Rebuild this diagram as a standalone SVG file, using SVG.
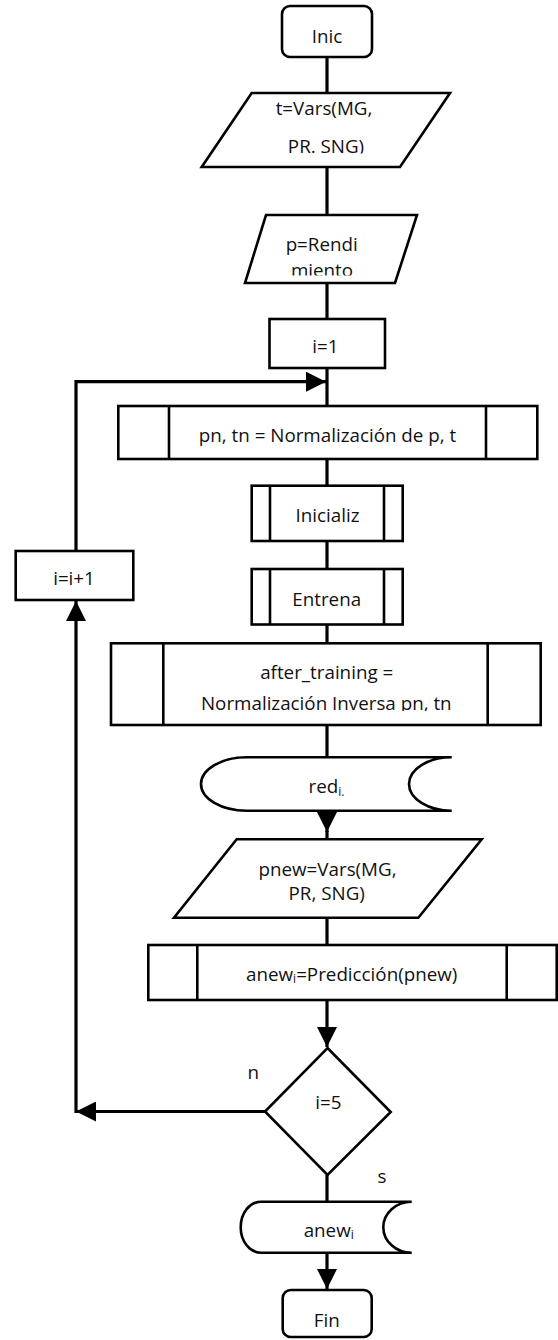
<svg xmlns="http://www.w3.org/2000/svg" width="558" height="1340" viewBox="0 0 558 1340">
<style>
.s{fill:#fff;stroke:#000;stroke-width:2.6}
.dv{fill:none;stroke:#000;stroke-width:2.6}
.c{fill:none;stroke:#000;stroke-width:3.2}
text{font-family:"Open Sans","Noto Sans",sans-serif;font-size:18.8px;fill:#111;text-anchor:middle}
.sub{font-size:12px}
</style>
<defs>
<marker id="ah" markerUnits="userSpaceOnUse" viewBox="0 0 20 20" markerWidth="20" markerHeight="20" refX="20" refY="10" orient="auto"><path d="M0,0 L20,10 L0,20 Z" fill="#000"/></marker>
<clipPath id="clipT"><rect x="200" y="93" width="252" height="60.5"/></clipPath>
<clipPath id="clipP"><rect x="240" y="215" width="180" height="60.5"/></clipPath>
<clipPath id="clipA"><rect x="111" y="643" width="430" height="68"/></clipPath>
</defs>
<rect width="558" height="1340" fill="#fff"/>

<g id="connectors" class="c">
<path d="M327,57 V93"/>
<path d="M327,167 V215"/>
<path d="M327,283 V319"/>
<path d="M327,368 V406"/>
<path d="M327,459 V486"/>
<path d="M327,541 V569"/>
<path d="M327,624.5 V643"/>
<path d="M327,725 V757"/>
<path d="M327,811 V832" marker-end="url(#ah)"/>
<path d="M327,831 V839"/>
<path d="M327,918 V945"/>
<path d="M327,1000 V1047" marker-end="url(#ah)"/>
<path d="M327,1175 V1202"/>
<path d="M327,1253 V1289" marker-end="url(#ah)"/>
<path d="M76,551 V381.7 H326" marker-end="url(#ah)"/>
<path d="M265,1111.5 H76" marker-end="url(#ah)"/>
<path d="M76,1113 V601" marker-end="url(#ah)"/>
</g>

<g id="inic">
<rect class="s" x="282" y="6" width="90" height="51" rx="8"/>
<text x="327" y="43.3">Inic</text>
</g>

<g id="t-vars">
<polygon class="s" points="251.7,93 450,93 400,167 201.7,167"/>
<g clip-path="url(#clipT)">
<text x="324" y="115">t=Vars(MG,</text>
<text x="326" y="153.3">PR. SNG)</text>
</g>
</g>

<g id="p-rend">
<polygon class="s" points="266,215 417,215 395,283 245,283"/>
<g clip-path="url(#clipP)">
<text x="321.7" y="250.5">p=Rendi</text>
<text x="322" y="276.5">miento</text>
</g>
</g>

<g id="i1">
<rect class="s" x="269.5" y="319" width="115.5" height="49"/>
<text x="325.3" y="353">i=1</text>
</g>

<g id="i-inc">
<rect class="s" x="15.7" y="551" width="117.6" height="49"/>
<text x="74" y="585">i=i+1</text>
</g>

<g id="normalizacion">
<rect class="s" x="118.3" y="406" width="419" height="53"/>
<path class="dv" d="M169,406 V459 M486,406 V459"/>
<text x="327.5" y="441.5">pn, tn = Normalización de p, t</text>
</g>

<g id="inicializ">
<rect class="s" x="251.7" y="485.7" width="151" height="55.3"/>
<path class="dv" d="M270,485.7 V541 M384,485.7 V541"/>
<text x="327.5" y="521.7">Inicializ</text>
</g>

<g id="entrena">
<rect class="s" x="251.7" y="569" width="151" height="55.5"/>
<path class="dv" d="M270,569 V624.5 M384,569 V624.5"/>
<text x="326.7" y="606">Entrena</text>
</g>

<g id="after-training">
<rect class="s" x="111" y="643.3" width="429.7" height="81.7"/>
<path class="dv" d="M163.3,643.3 V725 M487.7,643.3 V725"/>
<g clip-path="url(#clipA)">
<text x="326.7" y="679.3">after_training =</text>
<text x="326.3" y="710">Normalización Inversa pn, tn</text>
</g>
</g>

<g id="red">
<path class="s" d="M246.7,757.3 H451.7 A42.7,26.7 0 0 0 451.7,810.7 H246.7 A45.7,26.7 0 0 1 246.7,757.3 Z"/>
<text x="326.5" y="793.3">red<tspan class="sub" dy="2.5">i.</tspan></text>
</g>

<g id="pnew">
<polygon class="s" points="236.7,839.3 481.7,839.3 418.3,917.7 174,917.7"/>
<text x="327.5" y="876">pnew=Vars(MG,</text>
<text x="326.7" y="900">PR, SNG)</text>
</g>

<g id="prediccion">
<rect class="s" x="148.3" y="945" width="408.4" height="55"/>
<path class="dv" d="M197.3,945 V1000 M506.7,945 V1000"/>
<text x="351.7" y="980.7">anew<tspan class="sub" dy="2">i</tspan><tspan dy="-2">=Predicción(pnew)</tspan></text>
</g>

<g id="decision">
<polygon class="s" points="327.5,1048 390.7,1112 327.5,1175 265,1111.5"/>
<text x="328.3" y="1109">i=5</text>
</g>

<g id="labels">
<text x="253.3" y="1079.3">n</text>
<text x="382" y="1182.7">s</text>
</g>

<g id="anew">
<path class="s" d="M261,1201.7 H411.7 A28.4,25.5 0 0 0 411.7,1252.7 H261 A20.3,25.5 0 0 1 261,1201.7 Z"/>
<text x="328.7" y="1237.3">anew<tspan class="sub" dy="2">i</tspan></text>
</g>

<g id="fin">
<rect class="s" x="282.7" y="1290" width="89" height="47" rx="8"/>
<text x="326.8" y="1326.7">Fin</text>
</g>
</svg>
